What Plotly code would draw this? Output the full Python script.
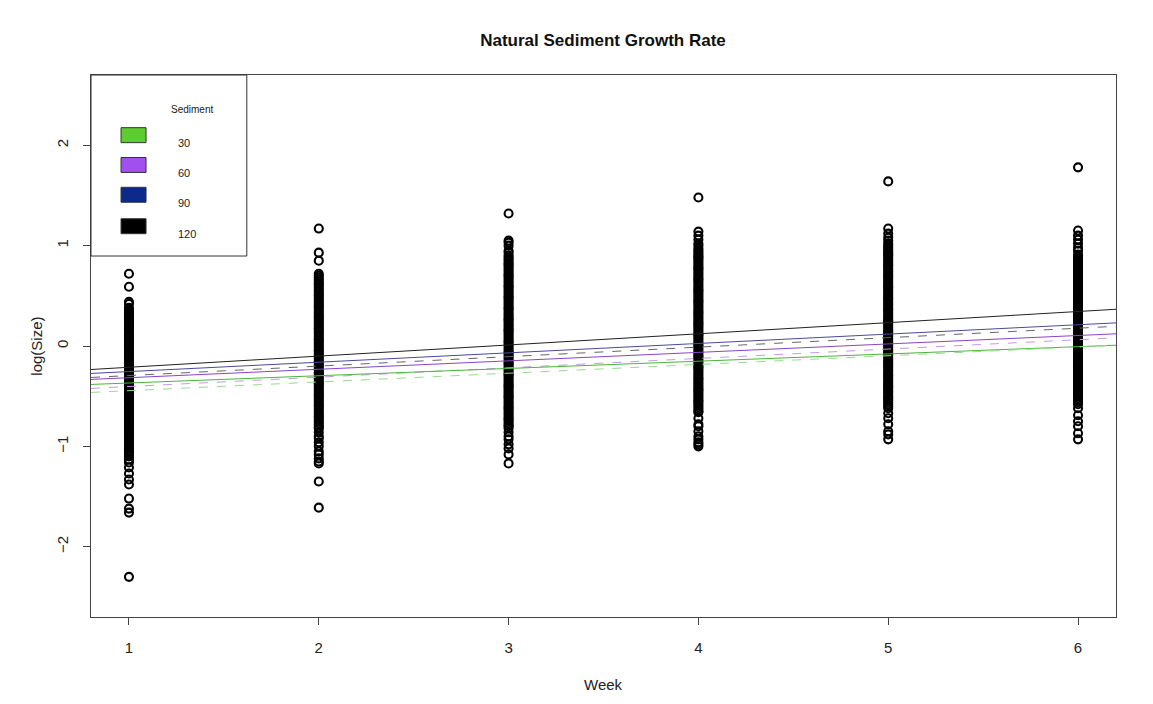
import plotly.graph_objects as go

# ---------------- data ----------------
weeks = [1, 2, 3, 4, 5, 6]

w1 = [0.72, 0.59, 0.44, 0.42, 0.38, 0.36, 0.35, 0.33, 0.31, 0.29, 0.27, 0.26, 0.24, 0.22, 0.20, 0.18,
      0.17, 0.15, 0.13, 0.11, 0.09, 0.08, 0.06, 0.04, 0.02, 0.00, -0.01, -0.03, -0.05, -0.07, -0.09,
      -0.10, -0.12, -0.14, -0.16, -0.18, -0.19, -0.21, -0.23, -0.25, -0.27, -0.28, -0.30, -0.32, -0.34,
      -0.36, -0.37, -0.39, -0.41, -0.43, -0.45, -0.46, -0.48, -0.50, -0.52, -0.54, -0.55, -0.57, -0.59,
      -0.61, -0.63, -0.64, -0.66, -0.68, -0.70, -0.72, -0.73, -0.75, -0.77, -0.79, -0.81, -0.82, -0.84,
      -0.86, -0.88, -0.90, -0.92, -0.94, -0.96, -0.98, -1.00, -1.02, -1.04, -1.06, -1.08, -1.10, -1.13,
      -1.16, -1.21, -1.27, -1.33, -1.38, -1.52, -1.62, -1.66, -2.30]
w2 = [1.17, 0.93, 0.85, 0.72, 0.70, 0.68, 0.66, 0.64, 0.62, 0.61, 0.59, 0.57, 0.55, 0.53, 0.51, 0.50,
      0.48, 0.46, 0.44, 0.42, 0.40, 0.39, 0.37, 0.35, 0.33, 0.31, 0.29, 0.28, 0.26, 0.24, 0.22, 0.20,
      0.18, 0.17, 0.15, 0.13, 0.11, 0.09, 0.07, 0.06, 0.04, 0.02, 0.00, -0.02, -0.04, -0.05, -0.07,
      -0.09, -0.11, -0.13, -0.15, -0.16, -0.18, -0.20, -0.22, -0.24, -0.26, -0.27, -0.29, -0.31, -0.33,
      -0.35, -0.37, -0.38, -0.40, -0.42, -0.44, -0.46, -0.48, -0.49, -0.51, -0.53, -0.55, -0.57, -0.59,
      -0.60, -0.62, -0.64, -0.66, -0.68, -0.70, -0.71, -0.73, -0.75, -0.77, -0.79, -0.81, -0.82, -0.86,
      -0.90, -0.92, -0.96, -1.00, -1.05, -1.08, -1.12, -1.15, -1.17, -1.35, -1.61]
w3 = [1.32, 1.05, 1.03, 1.00, 0.95, 0.93, 0.90, 0.88, 0.86, 0.84, 0.82, 0.81, 0.79, 0.77, 0.75, 0.73,
      0.71, 0.70, 0.68, 0.66, 0.64, 0.62, 0.60, 0.59, 0.57, 0.55, 0.53, 0.51, 0.49, 0.48, 0.46, 0.44,
      0.42, 0.40, 0.38, 0.37, 0.35, 0.33, 0.31, 0.29, 0.27, 0.26, 0.24, 0.22, 0.20, 0.18, 0.16, 0.15,
      0.13, 0.11, 0.09, 0.07, 0.05, 0.04, 0.02, 0.00, -0.02, -0.04, -0.06, -0.07, -0.09, -0.11, -0.13,
      -0.15, -0.17, -0.18, -0.20, -0.22, -0.24, -0.26, -0.28, -0.29, -0.31, -0.33, -0.35, -0.37, -0.39,
      -0.40, -0.42, -0.44, -0.46, -0.48, -0.50, -0.51, -0.53, -0.55, -0.57, -0.59, -0.61, -0.62, -0.64,
      -0.66, -0.68, -0.70, -0.72, -0.73, -0.75, -0.77, -0.79, -0.80, -0.82, -0.86, -0.90, -0.93, -0.98,
      -1.02, -1.08, -1.17]
w4 = [1.48, 1.14, 1.10, 1.06, 1.02, 1.00, 0.97, 0.95, 0.93, 0.91, 0.89, 0.88, 0.86, 0.84, 0.82, 0.80,
      0.78, 0.77, 0.75, 0.73, 0.71, 0.69, 0.67, 0.66, 0.64, 0.62, 0.60, 0.58, 0.56, 0.55, 0.53, 0.51,
      0.49, 0.47, 0.45, 0.44, 0.42, 0.40, 0.38, 0.36, 0.34, 0.33, 0.31, 0.29, 0.27, 0.25, 0.23, 0.22,
      0.20, 0.18, 0.16, 0.14, 0.12, 0.11, 0.09, 0.07, 0.05, 0.03, 0.01, 0.00, -0.02, -0.04, -0.06,
      -0.08, -0.10, -0.11, -0.13, -0.15, -0.17, -0.19, -0.21, -0.22, -0.24, -0.26, -0.28, -0.30, -0.32,
      -0.33, -0.35, -0.37, -0.39, -0.41, -0.43, -0.44, -0.46, -0.48, -0.50, -0.52, -0.54, -0.55, -0.57,
      -0.59, -0.61, -0.63, -0.65, -0.66, -0.72, -0.78, -0.80, -0.85, -0.90, -0.93, -0.96, -0.98, -1.00]
w5 = [1.64, 1.17, 1.12, 1.08, 1.05, 1.02, 1.00, 0.98, 0.96, 0.94, 0.92, 0.91, 0.89, 0.87, 0.85, 0.83,
      0.81, 0.80, 0.78, 0.76, 0.74, 0.72, 0.70, 0.69, 0.67, 0.65, 0.63, 0.61, 0.59, 0.58, 0.56, 0.54,
      0.52, 0.50, 0.48, 0.47, 0.45, 0.43, 0.41, 0.39, 0.37, 0.36, 0.34, 0.32, 0.30, 0.28, 0.26, 0.25,
      0.23, 0.21, 0.19, 0.17, 0.15, 0.14, 0.12, 0.10, 0.08, 0.06, 0.04, 0.03, 0.01, -0.01, -0.03, -0.05,
      -0.07, -0.08, -0.10, -0.12, -0.14, -0.16, -0.18, -0.19, -0.21, -0.23, -0.25, -0.27, -0.29, -0.30,
      -0.32, -0.34, -0.36, -0.38, -0.40, -0.41, -0.43, -0.45, -0.47, -0.49, -0.51, -0.52, -0.54, -0.56,
      -0.58, -0.60, -0.62, -0.67, -0.72, -0.78, -0.85, -0.88, -0.93]
w6 = [1.78, 1.15, 1.10, 1.06, 1.02, 0.98, 0.95, 0.91, 0.89, 0.87, 0.85, 0.84, 0.82, 0.80, 0.78, 0.76,
      0.74, 0.73, 0.71, 0.69, 0.67, 0.65, 0.63, 0.62, 0.60, 0.58, 0.56, 0.54, 0.52, 0.51, 0.49, 0.47,
      0.45, 0.43, 0.41, 0.40, 0.38, 0.36, 0.34, 0.32, 0.30, 0.29, 0.27, 0.25, 0.23, 0.21, 0.19, 0.18,
      0.16, 0.14, 0.12, 0.10, 0.08, 0.07, 0.05, 0.03, 0.01, -0.01, -0.03, -0.04, -0.06, -0.08, -0.10,
      -0.12, -0.14, -0.15, -0.17, -0.19, -0.21, -0.23, -0.25, -0.26, -0.28, -0.30, -0.32, -0.34, -0.36,
      -0.37, -0.39, -0.41, -0.43, -0.45, -0.47, -0.48, -0.50, -0.52, -0.54, -0.56, -0.58, -0.62, -0.69,
      -0.75, -0.80, -0.87, -0.93]
sizes_by_week = [w1, w2, w3, w4, w5, w6]

# Fitted lines (intercept, slope) per sediment level
sediment_levels = ["30", "60", "90", "120"]
legend_colors = ["#5ecc2e", "#a24ff0", "#0c2a8c", "#000000"]

line_names = ["120 fit", "90 fit", "120 alt", "60 fit", "60 alt", "30 fit", "30 alt"]
line_intercepts = [-0.323, -0.348, -0.389, -0.400, -0.497, -0.441, -0.532]
line_slopes = [0.1111, 0.0933, 0.0944, 0.0841, 0.0933, 0.0724, 0.0870]
line_colors = ["#222222", "#4a4a9a", "#666666", "#8a44c8", "#c597ee", "#48b838", "#96dc8c"]
line_dashes = ["solid", "solid", "dash", "solid", "dash", "solid", "dash"]

x_range = [0.8, 6.2]
y_range = [-2.7, 2.7]

FONT = "Liberation Sans, Arial, Helvetica"

# ---------------- figure ----------------
fig = go.Figure()

for wk, vals in zip(weeks, sizes_by_week):
    fig.add_trace(go.Scatter(
        x=[wk] * len(vals), y=vals, mode="markers",
        marker=dict(symbol="circle-open", size=8, color="black", line=dict(width=2.1, color="black")),
        showlegend=False, hoverinfo="y"))

for name, a, b, c, d in zip(line_names, line_intercepts, line_slopes, line_colors, line_dashes):
    xs = [x_range[0], x_range[1]]
    fig.add_trace(go.Scatter(
        x=xs, y=[a + b * xv for xv in xs], mode="lines", name=name,
        line=dict(color=c, width=1, dash=d), showlegend=False))

# Legend drawn as a box like R's legend()
shapes = [dict(type="rect", xref="paper", yref="paper", x0=0, x1=0.152, y0=0.666, y1=1.0,
               line=dict(color="#333333", width=1), fillcolor="white", layer="above")]
annotations = [dict(text="Sediment", xref="paper", yref="paper", x=0.076, y=0.950, showarrow=False,
                    font=dict(size=10, color="#222", family=FONT))]
ycent = [0.889, 0.834, 0.779, 0.721]
for lvl, col, yc in zip(sediment_levels, legend_colors, ycent):
    shapes.append(dict(type="rect", xref="paper", yref="paper", x0=0.0293, x1=0.0537,
                       y0=yc - 0.0138, y1=yc + 0.0138, line=dict(color="#333", width=1),
                       fillcolor=col, layer="above"))
    annotations.append(dict(text=lvl, xref="paper", yref="paper", x=0.083, y=yc, xanchor="left",
                            showarrow=False, font=dict(size=11, color="#222", family=FONT)))

annotations.append(dict(text="Week", xref="paper", yref="paper", x=0.5, y=-0.125, yanchor="middle",
                        showarrow=False, font=dict(size=15, color="#222", family=FONT)))
annotations.append(dict(text="log(Size)", xref="paper", yref="paper", x=-0.054, y=0.5, xanchor="center",
                        textangle=-90, showarrow=False, font=dict(size=15, color="#222", family=FONT)))

fig.update_layout(
    width=1153, height=704,
    margin=dict(l=91, r=37, t=75, b=87),
    paper_bgcolor="white", plot_bgcolor="white",
    title=dict(text="<b>Natural Sediment Growth Rate</b>", x=0.523, xanchor="center", y=0.943,
               yanchor="middle", font=dict(size=17, color="#111", family=FONT)),
    shapes=shapes, annotations=annotations,
    font=dict(family=FONT, color="#222"),
)
fig.update_xaxes(range=x_range, tickvals=weeks, ticks="outside", ticklen=7, tickcolor="#444",
                 showgrid=False, zeroline=False, showline=True, mirror=True, linecolor="#444",
                 linewidth=1, tickfont=dict(size=15), ticklabelstandoff=10)
fig.update_yaxes(range=y_range, tickvals=[-2, -1, 0, 1, 2], ticks="outside", ticklen=7, tickcolor="#444",
                 showgrid=False, zeroline=False, showline=True, mirror=True, linecolor="#444",
                 linewidth=1, tickangle=-90, tickfont=dict(size=15), ticklabelstandoff=9)

fig.write_html("out.html", config={"displayModeBar": False},
               post_script="document.body.style.margin='0px';")
